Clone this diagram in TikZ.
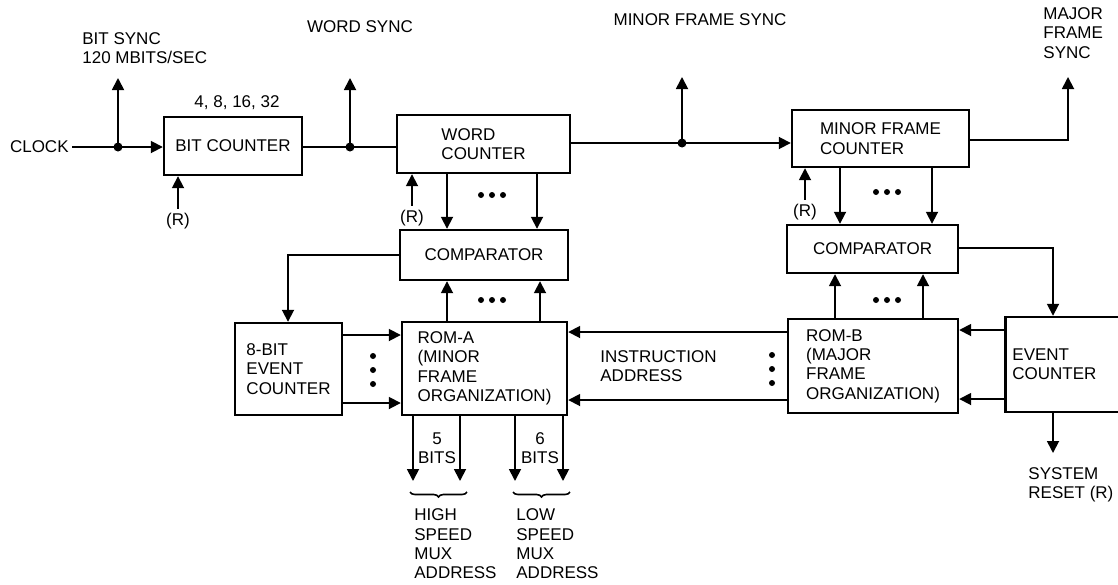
\documentclass[tikz,border=0pt]{standalone}
\usepackage{fontspec}
\setmainfont{Liberation Sans}
\usetikzlibrary{arrows.meta,decorations.pathreplacing}
\begin{document}
\begin{tikzpicture}[x=0.5pt,y=-0.5pt,
  txt/.style={font=\fontsize{8.5}{9.7}\selectfont},
  box/.style={draw, line width=1.2pt, inner sep=0pt, txt, align=left},
  lbl/.style={txt, inner sep=0pt, align=left},
  wire/.style={line width=0.9pt},
  arr/.style={wire, -{Triangle[width=6pt,length=6pt]}},
  jdot/.style={circle, fill, inner sep=0pt, minimum size=4.5pt},
  tdot/.style={circle, fill, inner sep=0pt, minimum size=3pt},
  brc/.style={decorate, decoration={brace, mirror, amplitude=2.5pt}, line width=0.8pt}]
\useasboundingbox (0,0) rectangle (1118,584);

% boxes
\node[box, minimum width=69pt, minimum height=29pt] (bitc) at (233,146) {BIT COUNTER};
\node[box, minimum width=86.5pt, minimum height=29pt] (wordc) at (483.5,144) {WORD\\COUNTER};
\node[box, minimum width=88.5pt, minimum height=28.5pt] (minorc) at (880.5,138.5) {MINOR FRAME\\COUNTER};
\node[box, minimum width=84pt, minimum height=25pt] (compA) at (484,255) {COMPARATOR};
\node[box, minimum width=85.5pt, minimum height=24pt] (compB) at (872.5,249) {COMPARATOR};
\node[box, minimum width=53.5pt, minimum height=46pt] (evc8) at (288.5,369) {8-BIT\\EVENT\\COUNTER};
\node[box, minimum width=82.5pt, minimum height=46.5pt] (romA) at (484.5,368.5) {ROM-A\\(MINOR\\FRAME\\ORGANIZATION)};
\node[box, minimum width=85pt, minimum height=47pt] (romB) at (873,366) {ROM-B\\(MAJOR\\FRAME\\ORGANIZATION)};
\node[box, minimum width=58.5pt, minimum height=47.5pt] (evc) at (1064,364.5) {};
\node[lbl, anchor=west] (evct) at (1012,364) {EVENT\\COUNTER};

% labels
\node[lbl, anchor=east] (clk) at (69,147) {CLOCK};
\node[lbl, anchor=west] (bsl) at (82,48) {BIT SYNC\\120 MBITS/SEC};
\node[lbl] (bcl) at (237,103) {4, 8, 16, 32};
\node[lbl] (wsl) at (360,27) {WORD SYNC};
\node[lbl] (mfl) at (700,20) {MINOR FRAME SYNC};
\node[lbl, anchor=west] (mjl) at (1043,33) {MAJOR\\FRAME\\SYNC};
\node[lbl] (r1) at (178,221) {(R)};
\node[lbl] (r2) at (412,218) {(R)};
\node[lbl] (r3) at (805,212) {(R)};
\node[lbl, anchor=west] (ial) at (600,366) {INSTRUCTION\\ADDRESS};
\node[lbl, anchor=west] (srl) at (1028,485) {SYSTEM\\RESET (R)};
\node[lbl, align=center] (b5) at (437,448) {5\\BITS};
\node[lbl, align=center] (b6) at (540,448) {6\\BITS};
\node[lbl, anchor=west] (hsl) at (414,544) {HIGH\\SPEED\\MUX\\ADDRESS};
\node[lbl, anchor=west] (lsl) at (516,544) {LOW\\SPEED\\MUX\\ADDRESS};

% junctions
\node[jdot] (j1) at (118,147) {};
\node[jdot] (j2) at (350,147) {};
\node[jdot] (j3) at (682,143) {};
\coordinate (t1) at (118,78);
\coordinate (t2) at (350,78);
\coordinate (t3) at (682,77);
\coordinate (t4) at (1068,77);
\coordinate (c4) at (1068,140);

% top chain
\draw[arr] ([xshift=1.5pt]clk.east) -- (bitc.west |- clk.east);
\draw[arr] (j1.center) -- (t1);
\draw[wire] (bitc.east |- j2) -- (wordc.west |- j2);
\draw[arr] (j2.center) -- (t2);
\draw[arr] (wordc.east |- j3) -- (minorc.west |- j3);
\draw[arr] (j3.center) -- (t3);
\draw[arr] (minorc.east |- c4) -- (c4) -- (t4);

% (R) inputs
\draw[arr] ([yshift=2pt]r1.north) -- (r1.north |- bitc.south);
\draw[arr] ([yshift=2pt]r2.north) -- (r2.north |- wordc.south);
\draw[arr] ([yshift=2pt]r3.north) -- (r3.north |- minorc.south);

% counter -> comparator
\coordinate (xa1) at (447,0);
\coordinate (xa2) at (537,0);
\coordinate (xb1) at (840,0);
\coordinate (xb2) at (932,0);
\draw[arr] (wordc.south -| xa1) -- (compA.north -| xa1);
\draw[arr] (wordc.south -| xa2) -- (compA.north -| xa2);
\draw[arr] (minorc.south -| xb1) -- (compB.north -| xb1);
\draw[arr] (minorc.south -| xb2) -- (compB.north -| xb2);
\node[tdot] (d1) at (481,195) {};
\node[tdot] (d2) at (492,195) {};
\node[tdot] (d3) at (503,195) {};
\node[tdot] (d4) at (876,192) {};
\node[tdot] (d5) at (887,192) {};
\node[tdot] (d6) at (898,192) {};

% ROM -> comparator
\coordinate (xr1) at (447,0);
\coordinate (xr2) at (540,0);
\coordinate (xr3) at (835,0);
\coordinate (xr4) at (923,0);
\draw[arr] (romA.north -| xr1) -- (compA.south -| xr1);
\draw[arr] (romA.north -| xr2) -- (compA.south -| xr2);
\draw[arr] (romB.north -| xr3) -- (compB.south -| xr3);
\draw[arr] (romB.north -| xr4) -- (compB.south -| xr4);
\node[tdot] (d7) at (481,300) {};
\node[tdot] (d8) at (492,300) {};
\node[tdot] (d9) at (503,300) {};
\node[tdot] (d10) at (876,300) {};
\node[tdot] (d11) at (887,300) {};
\node[tdot] (d12) at (898,300) {};

% comparator -> event counters
\coordinate (ca) at (288,255);
\coordinate (cb) at (1053,248);
\draw[arr] (compA.west |- ca) -- (ca) -- (evc8.north -| ca);
\draw[arr] (compB.east |- cb) -- (cb) -- (evc.north -| cb);

% event counter -> ROMs
\coordinate (ya1) at (0,335);
\coordinate (ya2) at (0,403);
\coordinate (yb1) at (0,332);
\coordinate (yb2) at (0,400);
\coordinate (yc1) at (0,330);
\coordinate (yc2) at (0,399);
\draw[arr] (evc8.east |- ya1) -- (romA.west |- ya1);
\draw[arr] (evc8.east |- ya2) -- (romA.west |- ya2);
\draw[arr] (romB.west |- yb1) -- (romA.east |- yb1);
\draw[arr] (romB.west |- yb2) -- (romA.east |- yb2);
\draw[arr] (evc.west |- yc1) -- (romB.east |- yc1);
\draw[arr] (evc.west |- yc2) -- (romB.east |- yc2);
\node[tdot] (v1) at (373,356) {};
\node[tdot] (v2) at (373,370) {};
\node[tdot] (v3) at (373,384) {};
\node[tdot] (v4) at (772,355) {};
\node[tdot] (v5) at (772,369) {};
\node[tdot] (v6) at (772,383) {};

% system reset
\coordinate (sr) at (1053,453);
\draw[arr] (evc.south -| sr) -- (sr);

% ROM-A outputs
\coordinate (o1) at (413,481);
\coordinate (o2) at (460,481);
\coordinate (o3) at (515,481);
\coordinate (o4) at (563,481);
\draw[arr] (romA.south -| o1) -- (o1);
\draw[arr] (romA.south -| o2) -- (o2);
\draw[arr] (romA.south -| o3) -- (o3);
\draw[arr] (romA.south -| o4) -- (o4);
\coordinate (bl1) at (410,492);
\coordinate (br1) at (467,492);
\coordinate (bl2) at (513,492);
\coordinate (br2) at (570,492);
\draw[brc] (bl1) -- (br1);
\draw[brc] (bl2) -- (br2);
\end{tikzpicture}
\end{document}
